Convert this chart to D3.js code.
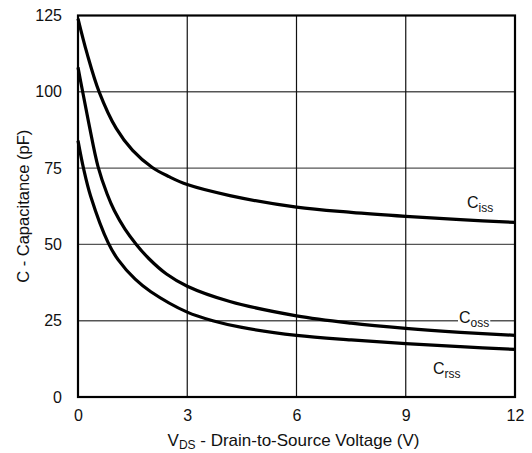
<!DOCTYPE html>
<html>
<head>
<meta charset="utf-8">
<script src="https://cdn.jsdelivr.net/npm/d3@7"></script>
<style>
  body { margin: 0; background: #fff; }
  svg { font-family: "Liberation Sans", Arial, sans-serif; }
</style>
</head>
<body>
<script>
// values: [Vds, pF]
const cissPts = [[0, 124], [0.25, 112.5], [0.58, 100], [1.05, 88], [1.5, 80.8], [2.04, 75.2], [2.5, 72.2], [3, 69.6], [4.17, 66], [6, 62.2], [7.5, 60.5], [9, 59.2], [10.5, 58.1], [12, 57.2]]
const cossPts = [[0, 108], [0.12, 100.5], [0.3, 89.5], [0.55, 75.5], [0.8, 66.5], [1.0, 61], [1.29, 55], [1.6, 50], [1.95, 45.3], [2.43, 40.3], [3, 36.3], [4.17, 31.3], [6, 26.6], [7.5, 24.2], [9, 22.5], [10.5, 21.2], [12, 20.2]]
const crssPts = [[0, 84], [0.15, 75], [0.35, 65.7], [0.83, 50.5], [1.1, 45], [1.57, 38.6], [2, 34.5], [3, 27.8], [3.7, 25], [4.5, 22.8], [6, 20.2], [7.5, 18.7], [9, 17.5], [10.5, 16.5], [12, 15.6]]

const xTicks = [0, 3, 6, 9, 12]
const yTicks = [0, 25, 50, 75, 100, 125]

const labelNames = ['iss', 'oss', 'rss']

const w = 532
const h = 453
const mLeft = 78, mRight = 515, mTop = 15.5, mBottom = 397

const svg = d3.select('body')
    .append('svg')
    .attr('width', w)
    .attr('height', h)

const xScale = d3.scaleLinear()
    .domain([0, 12])
    .range([mLeft, mRight])

const yScale = d3.scaleLinear()
    .domain([0, 125])
    .range([mBottom, mTop])

// grid
svg.append('g')
    .selectAll('line')
    .data(yTicks.slice(1, -1))
    .enter()
    .append('line')
    .attr('x1', mLeft)
    .attr('x2', mRight)
    .attr('y1', d => yScale(d))
    .attr('y2', d => yScale(d))
    .attr('stroke', '#555')
    .attr('stroke-width', 1.4)

svg.append('g')
    .selectAll('line')
    .data(xTicks.slice(1, -1))
    .enter()
    .append('line')
    .attr('x1', d => xScale(d))
    .attr('x2', d => xScale(d))
    .attr('y1', mTop)
    .attr('y2', mBottom)
    .attr('stroke', '#111')
    .attr('stroke-width', 1.2)

// axes (labels only)
const xAxis = d3.axisBottom(xScale)
    .tickValues(xTicks)
    .tickSize(0)
    .tickPadding(13)

const yAxis = d3.axisLeft(yScale)
    .tickValues(yTicks)
    .tickSize(0)
    .tickPadding(16)

const gx = svg.append('g')
    .attr('transform', 'translate(0,' + mBottom + ')')
    .call(xAxis)
gx.select('.domain').remove()

const gy = svg.append('g')
    .attr('transform', 'translate(' + mLeft + ',0)')
    .call(yAxis)
gy.select('.domain').remove()

svg.selectAll('.tick text')
    .attr('font-size', 16)
    .attr('font-family', '"Liberation Sans", Arial, sans-serif')
    .attr('fill', '#111')

// curves
const line = d3.line()
    .x(d => xScale(d[0]))
    .y(d => yScale(d[1]))
    .curve(d3.curveCatmullRom.alpha(0.5))

svg.selectAll('path.curve')
    .data([cissPts, cossPts, crssPts])
    .enter()
    .append('path')
    .attr('class', 'curve')
    .attr('d', line)
    .attr('fill', 'none')
    .attr('stroke', '#000')
    .attr('stroke-width', 3.2)

// frame
svg.append('rect')
    .attr('x', mLeft)
    .attr('y', mTop)
    .attr('width', mRight - mLeft)
    .attr('height', mBottom - mTop)
    .attr('fill', 'none')
    .attr('stroke', '#000')
    .attr('stroke-width', 2.2)

// curve labels
const labPos = [[467, 208], [459, 323], [433, 374]]

const lab = svg.selectAll('g.lab')
    .data(labelNames)
    .enter()
    .append('g')
    .attr('class', 'lab')

lab.append('rect')
    .attr('fill', '#fff')

const labText = lab.append('text')
    .attr('font-size', 16)
    .attr('fill', '#111')
    .attr('x', (d, i) => labPos[i][0])
    .attr('y', (d, i) => labPos[i][1])

labText.append('tspan').text('C')
labText.append('tspan')
    .attr('font-size', 12)
    .attr('dy', 4)
    .text(d => d)

lab.each(function (d, i) {
    const g = d3.select(this)
    const bb = g.select('text').node().getBBox()
    if (i === 1) {
        g.select('rect')
            .attr('x', bb.x - 1)
            .attr('y', bb.y + 2)
            .attr('width', bb.width + 2)
            .attr('height', bb.height - 4)
    } else {
        g.select('rect').remove()
    }
})

// axis titles
const xt = svg.append('text')
    .attr('x', (mLeft + mRight) / 2 - 3)
    .attr('y', 446)
    .attr('text-anchor', 'middle')
    .attr('font-size', 17)
    .attr('fill', '#111')
xt.append('tspan').text('V')
xt.append('tspan').attr('font-size', 12).attr('dy', 3).text('DS')
xt.append('tspan').attr('dy', -3).text(' - Drain-to-Source Voltage (V)')

svg.append('text')
    .attr('transform', 'translate(29,' + ((mTop + mBottom) / 2) + ') rotate(-90)')
    .attr('text-anchor', 'middle')
    .attr('font-size', 16.5)
    .attr('fill', '#111')
    .text('C - Capacitance (pF)')
</script>
</body>
</html>
